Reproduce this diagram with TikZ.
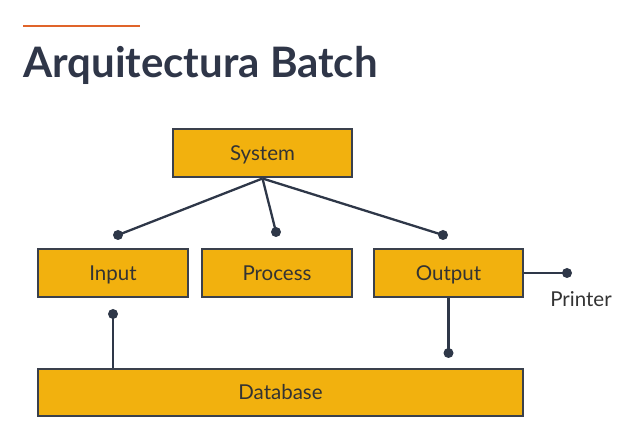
\documentclass[tikz,border=0pt]{standalone}
\usepackage{fontspec}
\setmainfont{Lato}
\usepackage{xcolor}
\usetikzlibrary{positioning}
\definecolor{boxfill}{HTML}{F2B10E}
\definecolor{boxline}{HTML}{3A404C}
\definecolor{wire}{HTML}{2E3748}
\definecolor{titlecol}{HTML}{2F3648}
\definecolor{accent}{HTML}{E0642A}
\definecolor{labelcol}{HTML}{333333}
\tikzset{
  box/.style={draw=boxline, fill=boxfill, line width=2pt, inner sep=0pt,
    text=labelcol, font=\fontsize{20.5}{24}\selectfont,
    text height=14.8pt, text depth=0pt},
  wire/.style={draw=wire, line width=2.3pt},
  dot/.style={fill=wire}
}
\begin{document}
\begin{tikzpicture}[x=1pt, y=-1pt]
    \useasboundingbox (0,0) rectangle (625,443);
    % title
    \draw[accent, line width=2.5pt] (23,26) -- (140,26);
    \node[anchor=base west, inner sep=0pt, text=titlecol, font=\fontsize{42}{46}\bfseries] (title) at (23,78) {Arquitectura Batch};
    % boxes
    \node[box, minimum width=179pt, minimum height=48pt] (sys) at (262.5,153.5) {System};
    \node[box, minimum width=150pt, minimum height=48pt] (in) at (113,273) {Input};
    \node[box, minimum width=150pt, minimum height=48pt] (proc) at (277,273) {Process};
    \node[box, minimum width=149pt, minimum height=48pt] (out) at (448.5,273) {Output};
    \node[box, minimum width=485pt, minimum height=47pt] (db) at (280.5,392.5) {Database};
    % end points
    \coordinate (dIn) at (118,235);
    \coordinate (dProc) at (276,232);
    \coordinate (dOut) at (443,235);
    \coordinate (dPrint) at (567,273);
    \coordinate (dStore) at (113,314);
    \coordinate (dSave) at (448.5,353);
    % connectors
    \draw[wire] (sys.south) -- (dIn);
    \draw[wire] (sys.south) -- (dProc);
    \draw[wire] (sys.south) -- (dOut);
    \draw[wire] (out.east) -- (dPrint);
    \draw[wire] (dStore) -- (dStore |- db.north);
    \draw[wire] (out.south) -- (dSave);
    \foreach \p in {dIn, dProc, dOut, dPrint, dStore, dSave}
        \fill[dot] (\p) circle (5pt);
    \node[text=labelcol, font=\fontsize{20.5}{24}\selectfont] (printer) at (581,299) {Printer};
\end{tikzpicture}
\end{document}
